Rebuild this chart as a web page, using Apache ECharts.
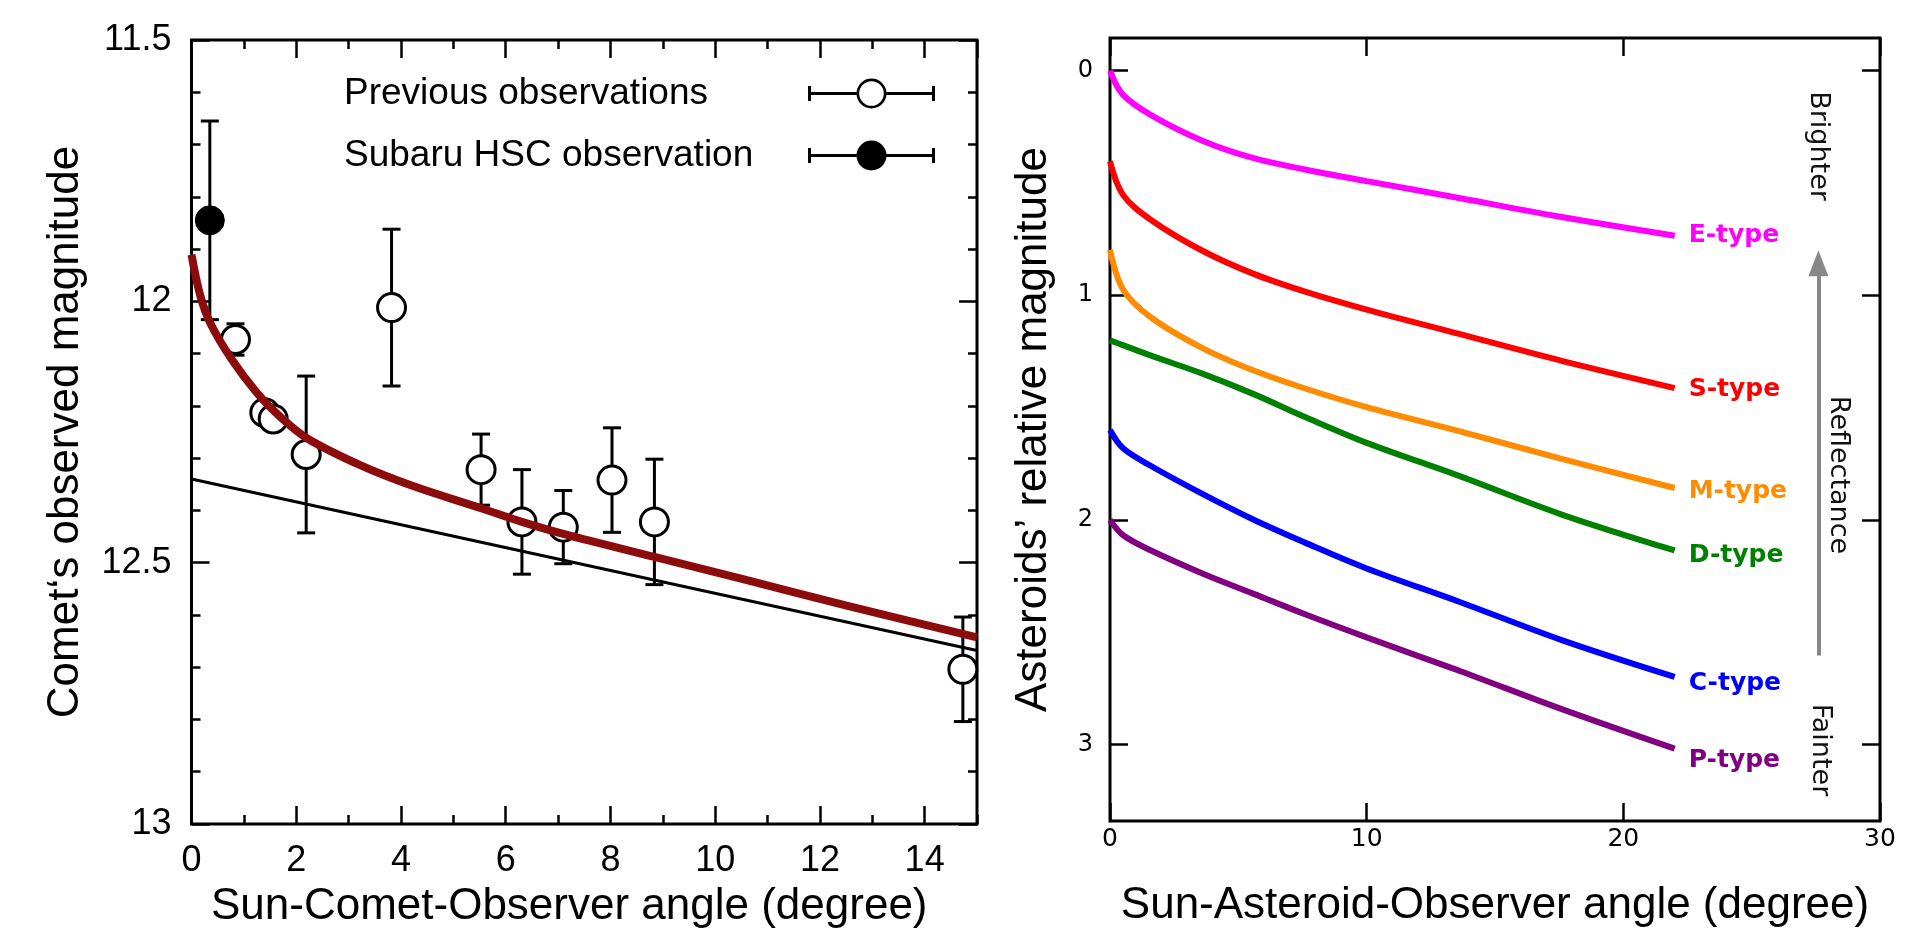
<!DOCTYPE html>
<html lang="en">
<head>
  <meta charset="UTF-8">
  <meta name="viewport" content="width=device-width, initial-scale=1.0">
  <title>Comet and asteroid phase curves</title>
  <script src="https://cdn.jsdelivr.net/npm/echarts@6.0.0/dist/echarts.min.js"></script>
  <style>
    html, body { margin: 0; padding: 0; background: #fff; }
    #wrap { width: 1920px; height: 947px; }
  </style>
</head>
<body>
<div id="wrap"></div>
<script>
  // ---- left panel: comet magnitudes ----
  const prevAngle = [0.84, 1.40, 1.56, 2.19, 3.82, 5.53, 6.31, 7.10, 8.03, 8.84, 14.73]
  const prevMag   = [12.073, 12.213, 12.225, 12.293, 12.012, 12.322, 12.422, 12.432, 12.342, 12.422, 12.704]
  const prevErr   = [0.03, 0.02, 0.02, 0.15, 0.15, 0.068, 0.10, 0.07, 0.10, 0.12, 0.10]

  const hscAngle = [0.35]
  const hscMag   = [11.845]
  const hscErr   = [0.19]

  // fitted phase curve (dark red) and linear part (black)
  const fitAngle = [0, 0.17, 0.37, 0.76, 1.25, 1.74, 2.22, 3.21, 4.19, 5.53, 6.31, 7.10, 8.84, 10.55, 12.51, 15]
  const fitMag   = [11.911, 11.99, 12.044, 12.11, 12.175, 12.225, 12.263, 12.313, 12.352, 12.396, 12.422, 12.445, 12.489, 12.532, 12.582, 12.643]
  const linAngle = [0, 15]
  const linMag   = [12.34, 12.668]

  // ---- right panel: asteroid phase curves ----
  const phaseAngle = [0, 0.5, 1.6, 3.6, 5.6, 7.6, 10, 13.6, 17.6, 22]
  const eType = [0, 0.107, 0.198, 0.312, 0.39, 0.44, 0.492, 0.567, 0.652, 0.735]
  const sType = [0.404, 0.552, 0.665, 0.802, 0.905, 0.984, 1.064, 1.172, 1.292, 1.413]
  const mType = [0.798, 0.973, 1.099, 1.235, 1.335, 1.415, 1.498, 1.605, 1.728, 1.858]
  const dType = [1.201, 1.222, 1.269, 1.349, 1.44, 1.542, 1.657, 1.804, 1.976, 2.136]
  const cType = [1.6, 1.68, 1.76, 1.884, 1.999, 2.101, 2.216, 2.364, 2.535, 2.699]
  const pType = [2.0, 2.067, 2.136, 2.238, 2.329, 2.42, 2.523, 2.671, 2.842, 3.018]

  const magTicks = [0, 1, 2, 3]
  // reflectance arrow (angle, magnitude)
  const arrowAngle = 27.6
  const arrowFrom = 2.603
  const arrowTo = 0.858

  const SANS = 'Liberation Sans, Arial, Helvetica, sans-serif'
  const DEJAVU = 'DejaVu Sans, sans-serif'
  const TICK = { color: '#000', width: 2.5 }

  const chart = echarts.init(document.querySelector('#wrap'))

  // an axis that only draws inward ticks
  function tickAxis(gridIndex, position, min, max, interval, len, inverse) {
    return {
      gridIndex, type: 'value', position, min, max, interval, inverse: !!inverse,
      axisLine: { show: false, onZero: false },
      splitLine: { show: false },
      axisLabel: { show: false },
      axisTick: { show: true, inside: true, length: len, lineStyle: TICK }
    }
  }

  const pairs = (xs, ys) => xs.map((x, i) => [x, ys[i]])

  function errorBars(name, xs, ys, es) {
    return {
      type: 'custom', name, xAxisIndex: 0, yAxisIndex: 0, z: 2, silent: true,
      data: xs.map((x, i) => [x, ys[i], es[i]]),
      encode: { x: 0, y: 1 },
      renderItem(params, api) {
        const x = api.value(0), y = api.value(1), e = api.value(2)
        const hi = api.coord([x, y - e])
        const lo = api.coord([x, y + e])
        const w = 9
        const st = { stroke: '#000', lineWidth: 3 }
        return {
          type: 'group',
          children: [
            { type: 'line', shape: { x1: hi[0], y1: hi[1], x2: lo[0], y2: lo[1] }, style: st },
            { type: 'line', shape: { x1: hi[0] - w, y1: hi[1], x2: hi[0] + w, y2: hi[1] }, style: st },
            { type: 'line', shape: { x1: lo[0] - w, y1: lo[1], x2: lo[0] + w, y2: lo[1] }, style: st }
          ]
        }
      }
    }
  }

  // legend icons: horizontal error bar with an open / filled circle
  const BARS = 'M0 7.5H3V22.5H0Z M3 13.5H48.6V16.5H3Z M78.4 13.5H124V16.5H78.4Z M124 7.5H127V22.5H124Z '
  const OPEN_ICON = 'path://' + BARS +
    'M48.5 15A15 15 0 1 0 78.5 15A15 15 0 1 0 48.5 15Z M51.2 15A12.3 12.3 0 1 1 75.8 15A12.3 12.3 0 1 1 51.2 15Z'
  const FILLED_ICON = 'path://' + BARS + 'M48.5 15A15 15 0 1 0 78.5 15A15 15 0 1 0 48.5 15Z'

  function typeLine(name, ys, color, dy) {
    return {
      type: 'line', name, xAxisIndex: 4, yAxisIndex: 4,
      data: pairs(phaseAngle, ys),
      smooth: 0.35,
      showSymbol: false, symbol: 'none',
      lineStyle: { color, width: 6 },
      itemStyle: { color },
      endLabel: {
        show: true, formatter: '{a}', color, distance: 14, offset: [0, dy],
        fontFamily: DEJAVU, fontWeight: 'bold', fontSize: 25
      },
      z: 3
    }
  }

  const ops = {
    backgroundColor: '#fff',
    animation: false,
    grid: [
      { left: 191.5, top: 40, width: 785.5, height: 784, show: true, borderColor: '#000', borderWidth: 3, backgroundColor: 'transparent' },
      { left: 1110, top: 38, width: 770, height: 783, show: true, borderColor: '#000', borderWidth: 3, backgroundColor: 'transparent' }
    ],
    xAxis: [
      {
        gridIndex: 0, type: 'value', position: 'bottom', min: 0, max: 15, interval: 2,
        axisLine: { show: false, onZero: false }, splitLine: { show: false },
        axisTick: { show: true, inside: true, length: 18, lineStyle: TICK },
        axisLabel: { color: '#000', fontFamily: SANS, fontSize: 36, margin: 19, showMaxLabel: false },
        name: 'Sun-Comet-Observer angle (degree)', nameLocation: 'middle', nameGap: 61,
        nameTextStyle: { color: '#000', fontFamily: SANS, fontSize: 44, padding: [0, 30, 0, 0] }
      },
      tickAxis(0, 'bottom', 0, 15, 1, 9),
      tickAxis(0, 'top', 0, 15, 2, 18),
      tickAxis(0, 'top', 0, 15, 1, 9),
      {
        gridIndex: 1, type: 'value', position: 'bottom', min: 0, max: 30, interval: 10,
        axisLine: { show: false, onZero: false }, splitLine: { show: false },
        axisTick: { show: true, inside: true, length: 18, lineStyle: TICK },
        axisLabel: { color: '#000', fontFamily: DEJAVU, fontSize: 25, margin: 6 },
        name: 'Sun-Asteroid-Observer angle (degree)', nameLocation: 'middle', nameGap: 63,
        nameTextStyle: { color: '#000', fontFamily: SANS, fontSize: 44 }
      },
      tickAxis(1, 'top', 0, 30, 10, 18)
    ],
    yAxis: [
      {
        gridIndex: 0, type: 'value', position: 'left', min: 11.5, max: 13, interval: 0.5, inverse: true,
        axisLine: { show: false, onZero: false }, splitLine: { show: false },
        axisTick: { show: true, inside: true, length: 18, lineStyle: TICK },
        axisLabel: { color: '#000', fontFamily: SANS, fontSize: 36, margin: 20 },
        name: 'Comet\u2018s observed magnitude', nameLocation: 'middle', nameGap: 104,
        nameTextStyle: { color: '#000', fontFamily: SANS, fontSize: 44 }
      },
      tickAxis(0, 'left', 11.5, 13, 0.1, 9, true),
      tickAxis(0, 'right', 11.5, 13, 0.5, 18, true),
      tickAxis(0, 'right', 11.5, 13, 0.1, 9, true),
      {
        gridIndex: 1, type: 'value', position: 'left', min: -0.145, max: 3.34, inverse: true,
        axisLine: { show: false, onZero: false }, splitLine: { show: false },
        axisTick: { show: true, inside: true, length: 18, customValues: magTicks, lineStyle: TICK },
        axisLabel: { color: '#000', fontFamily: DEJAVU, fontSize: 24, margin: 17, customValues: magTicks },
        name: 'Asteroids\u2019 relative magnitude', nameLocation: 'middle', nameGap: 54,
        nameTextStyle: { color: '#000', fontFamily: SANS, fontSize: 44 }
      },
      {
        gridIndex: 1, type: 'value', position: 'right', min: -0.145, max: 3.34, inverse: true,
        axisLine: { show: false, onZero: false }, splitLine: { show: false }, axisLabel: { show: false },
        axisTick: { show: true, inside: true, length: 18, customValues: magTicks, lineStyle: TICK }
      }
    ],
    legend: {
      right: 985, top: 75, orient: 'vertical', align: 'right', padding: 0,
      itemWidth: 127, itemHeight: 30, itemGap: 25, selectedMode: false,
      formatter: '{t|{name}}',
      textStyle: { rich: { t: { width: 459, align: 'left', fontSize: 37, fontFamily: SANS, color: '#000' } } },
      data: [
        { name: 'Previous observations', icon: OPEN_ICON, itemStyle: { color: '#000', borderWidth: 0 } },
        { name: 'Subaru HSC observation', icon: FILLED_ICON, itemStyle: { color: '#000', borderWidth: 0 } }
      ]
    },
    graphic: [
      { type: 'text', x: 1818, y: 146, rotation: -Math.PI / 2,
        style: { text: 'Brighter', fontFamily: DEJAVU, fontSize: 27, fill: '#111', align: 'center', verticalAlign: 'middle', textAlign: 'center', textVerticalAlign: 'middle' } },
      { type: 'text', x: 1838, y: 475, rotation: -Math.PI / 2,
        style: { text: 'Reflectance', fontFamily: DEJAVU, fontSize: 27, fill: '#111', align: 'center', verticalAlign: 'middle', textAlign: 'center', textVerticalAlign: 'middle' } },
      { type: 'text', x: 1820, y: 750, rotation: -Math.PI / 2,
        style: { text: 'Fainter', fontFamily: DEJAVU, fontSize: 27, fill: '#111', align: 'center', verticalAlign: 'middle', textAlign: 'center', textVerticalAlign: 'middle' } }
    ],
    series: [
      errorBars('prev-err', prevAngle, prevMag, prevErr),
      errorBars('hsc-err', hscAngle, hscMag, hscErr),
      {
        type: 'scatter', name: 'Previous observations', xAxisIndex: 0, yAxisIndex: 0, z: 3,
        data: pairs(prevAngle, prevMag), symbolSize: 28,
        itemStyle: { color: '#fff', borderColor: '#000', borderWidth: 3, opacity: 1 }
      },
      {
        type: 'scatter', name: 'Subaru HSC observation', xAxisIndex: 0, yAxisIndex: 0, z: 3,
        data: pairs(hscAngle, hscMag), symbolSize: 29,
        itemStyle: { color: '#000', borderColor: '#000', borderWidth: 1, opacity: 1 }
      },
      {
        type: 'line', name: 'linear', xAxisIndex: 0, yAxisIndex: 0, z: 4,
        data: pairs(linAngle, linMag), symbol: 'none',
        lineStyle: { color: '#000', width: 3 }
      },
      {
        type: 'line', name: 'fit', xAxisIndex: 0, yAxisIndex: 0, z: 5,
        data: pairs(fitAngle, fitMag), symbol: 'none', smooth: 0.35,
        lineStyle: { color: '#8c0c0c', width: 8 }
      },
      typeLine('E-type', eType, '#ff00ff', 0),
      typeLine('S-type', sType, '#ff0000', 1),
      typeLine('M-type', mType, '#ff8c00', 3),
      typeLine('D-type', dType, '#008000', 5),
      typeLine('C-type', cType, '#0000ff', 7),
      Object.assign(typeLine('P-type', pType, '#800080', 12), {
        markLine: {
          silent: true, symbol: ['none', 'triangle'], symbolSize: [20, 26],
          label: { show: false },
          lineStyle: { color: '#888', width: 4, type: 'solid' },
          data: [[{ coord: [arrowAngle, arrowFrom] }, { coord: [arrowAngle, arrowTo] }]]
        }
      })
    ]
  }

  chart.setOption(ops)
</script>
</body>
</html>
